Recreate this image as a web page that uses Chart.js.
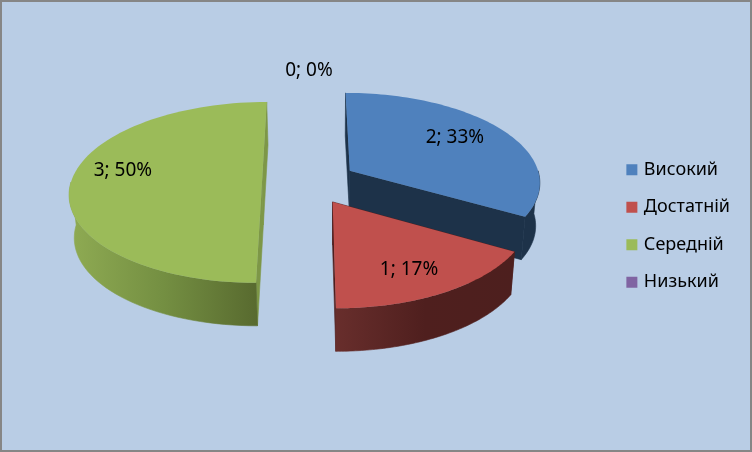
<!DOCTYPE html>
<html>
<head>
<meta charset="utf-8">
<script src="https://cdn.jsdelivr.net/npm/chart.js@4/dist/chart.umd.min.js"></script>
<style>
    html, body { margin: 0; padding: 0; background: #b9cde5; }
    canvas { display: block; }
</style>
</head>
<body>
<canvas id="graphique_pie" width="752" height="452"></canvas>
<script>
const categories = ['Високий', 'Достатній', 'Середній', 'Низький'];
const valeurs = [2, 1, 3, 0];
const pourcents = [33, 17, 50, 0];
const couleurs = ['#4f81bd', '#c0504d', '#9bbb59', '#8064a2'];

// couleurs des parois : bord coupé, puis dégradé de la paroi extérieure
const couleurs_bord = ['#1d3249', '#4f1f1e', '#7d9747', '#40325a'];
const couleurs_paroi = [
    ['#1d3249', '#1d3249', '#1d3249'],
    ['#682e2c', '#4f1f1e', '#4d1f1e'],
    ['#8fab53', '#748f42', '#586a2f'],
    ['#40325a', '#40325a', '#40325a']
];
const eclatement = [49, 48, 46, 0];
const rayon_etiquette = [0.74, 0.74, 0.76, 1.24];
const decalage_etiquette = [[-9, -2], [-4, 3], [6, -11], [1, 2]];

// perspective du plan de la tarte
const POINT_X = 308, POINT_Y = -594, HAUTEUR = 776, DISTANCE = 1661;
const RAYON = 191, EPAISSEUR = 43;

function projeter(u, v, bas) {
    const s = DISTANCE / (DISTANCE + v);
    let x = POINT_X + u * s;
    let y = POINT_Y + HAUTEUR * s;
    if (bas) {
        x = 330 + (x - 330) * 0.98;
        y += EPAISSEUR;
    }
    return [x, y];
}

function polygone(ctx, points, couleur, contour) {
    ctx.beginPath();
    points.forEach(function (p, i) {
        if (i === 0) ctx.moveTo(p[0], p[1]);
        else ctx.lineTo(p[0], p[1]);
    });
    ctx.closePath();
    ctx.fillStyle = couleur;
    ctx.fill();
    if (contour) {
        ctx.strokeStyle = couleur;
        ctx.lineWidth = 0.6;
        ctx.stroke();
    }
}

function geometrie(arc) {
    const p = arc.getProps(['startAngle', 'endAngle', 'outerRadius']);
    const milieu = (p.startAngle + p.endAngle) / 2;
    const ratio = RAYON / p.outerRadius;
    const d = arc.options.offset;
    return {
        debut: p.startAngle,
        fin: p.endAngle,
        milieu: milieu,
        r: p.outerRadius * ratio,
        cu: Math.cos(milieu) * d,
        cv: -Math.sin(milieu) * d
    };
}

const tarte3d = {
    id: 'tarte3d',
    beforeDraw: function (chart) {
        const ctx = chart.ctx;
        ctx.save();
        ctx.fillStyle = '#b9cde5';
        ctx.fillRect(0, 0, chart.width, chart.height);
        ctx.strokeStyle = '#868686';
        ctx.lineWidth = 2;
        ctx.strokeRect(1, 1, chart.width - 2, chart.height - 2);
        ctx.restore();
    },
    beforeDatasetDraw: function (chart, args) {
        const ctx = chart.ctx;
        const arcs = args.meta.data;
        // du fond vers l'avant : bleu, vert, rouge
        [0, 2, 1].forEach(function (i) {
            const g = geometrie(arcs[i]);
            const haut = [], paroi_haut = [], paroi_bas = [];
            for (let k = 0; k <= 80; k++) {
                const a = g.debut + (g.fin - g.debut) * k / 80;
                const u = g.cu + Math.cos(a) * g.r;
                const v = g.cv - Math.sin(a) * g.r;
                haut.push(projeter(u, v, false));
                // seule la partie avant de la paroi se voit
                if (Math.sin(a) > -0.02) {
                    paroi_haut.push(projeter(u, v, false));
                    paroi_bas.push(projeter(u, v, true));
                }
            }
            const c_haut = projeter(g.cu, g.cv, false);
            const c_bas = projeter(g.cu, g.cv, true);
            const a0 = [g.cu + Math.cos(g.debut) * g.r, g.cv - Math.sin(g.debut) * g.r];
            const a1 = [g.cu + Math.cos(g.fin) * g.r, g.cv - Math.sin(g.fin) * g.r];
            polygone(ctx, [c_haut, haut[0], projeter(a0[0], a0[1], true), c_bas], couleurs_bord[i], true);
            polygone(ctx, [c_haut, haut[80], projeter(a1[0], a1[1], true), c_bas], couleurs_bord[i], true);

            const xs = paroi_haut.concat(paroi_bas).map(function (p) { return p[0]; });
            const degrade = ctx.createLinearGradient(Math.min.apply(null, xs), 0, Math.max.apply(null, xs), 0);
            couleurs_paroi[i].forEach(function (c, n) { degrade.addColorStop(n / 2, c); });
            polygone(ctx, paroi_haut.concat(paroi_bas.slice().reverse()), degrade, true);

            polygone(ctx, [c_haut].concat(haut), arcs[i].options.backgroundColor, false);
        });

        ctx.save();
        ctx.font = '19px "Noto Sans"';
        ctx.fillStyle = '#000000';
        ctx.textAlign = 'center';
        ctx.textBaseline = 'middle';
        arcs.forEach(function (arc, i) {
            const g = geometrie(arc);
            // tranche vide : l'angle du milieu part vers le haut
            const milieu = valeurs[i] === 0 ? -Math.PI / 2 : g.milieu;
            const u = (valeurs[i] === 0 ? 0 : g.cu) + Math.cos(milieu) * g.r * rayon_etiquette[i];
            const v = (valeurs[i] === 0 ? 47 : g.cv) - Math.sin(milieu) * g.r * rayon_etiquette[i];
            const p = projeter(u, v, false);
            ctx.fillText(valeurs[i] + '; ' + pourcents[i] + '%', p[0] + decalage_etiquette[i][0], p[1] + decalage_etiquette[i][1]);
        });
        ctx.restore();
        return false;
    }
};

new Chart(document.getElementById('graphique_pie').getContext('2d'), {
    type: 'pie',
    data: {
        labels: categories,
        datasets: [{
            data: valeurs,
            backgroundColor: couleurs,
            borderWidth: 0,
            offset: eclatement
        }]
    },
    options: {
        responsive: false,
        animation: false,
        layout: { padding: { right: 12 } },
        plugins: {
            tooltip: { enabled: false },
            legend: {
                position: 'right',
                labels: {
                    usePointStyle: true,
                    pointStyle: 'rect',
                    boxWidth: 6,
                    boxHeight: 11,
                    padding: 19.5,
                    color: '#000000',
                    font: { family: '"Noto Sans"', size: 18 }
                }
            }
        }
    },
    plugins: [tarte3d]
});
</script>
</body>
</html>
